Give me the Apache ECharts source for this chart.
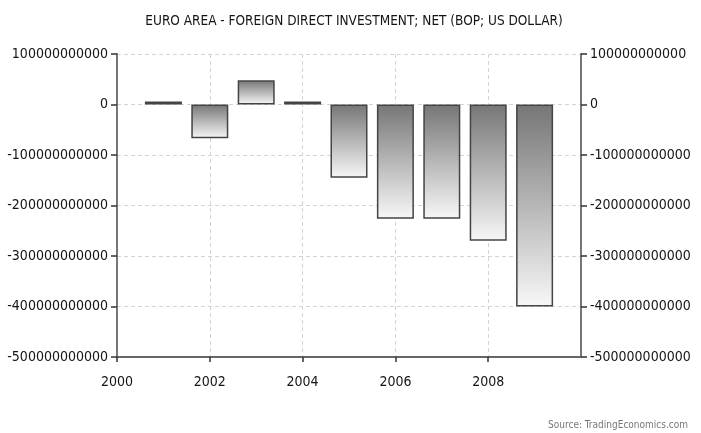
<!DOCTYPE html>
<html>
<head>
<meta charset="utf-8">
<title>Euro Area - Foreign Direct Investment</title>
<script src="https://cdn.jsdelivr.net/npm/echarts@6/dist/echarts.min.js"></script>
<style>
  html, body { margin: 0; padding: 0; background: #fff; }
  #chart { width: 701px; height: 433px; }
</style>
</head>
<body>
<div id="chart"></div>
<script>
// years and net FDI (US dollars)
const years = [2001, 2002, 2003, 2004, 2005, 2006, 2007, 2008, 2009]
const values = [6e9, -67e9, 48e9, 6e9, -145e9, -226e9, -226e9, -270e9, -400e9]
const yTicks = [100e9, 0, -100e9, -200e9, -300e9, -400e9, -500e9]

const font = '"DejaVu Sans Condensed", "DejaVu Sans", sans-serif'

const chart = echarts.init(document.getElementById('chart'))

function yAxisOf(pos) {
  return {
    type: 'value',
    position: pos,
    min: yTicks[yTicks.length - 1],
    max: yTicks[0],
    interval: 100e9,
    axisLine: { show: true, lineStyle: { color: '#777', width: 2 } },
    axisTick: { show: true, length: 6, lineStyle: { color: '#333', width: 1.5 } },
    axisLabel: {
      color: '#141414',
      fontFamily: font,
      fontSize: 14,
      margin: 9,
      formatter: v => String(Math.round(v))
    },
    splitLine: pos === 'left'
      ? { show: true, lineStyle: { color: '#d4d4d4', type: [4, 3], width: 1 } }
      : { show: false }
  }
}

chart.setOption({
  animation: false,
  backgroundColor: '#fff',
  title: {
    text: 'EURO AREA - FOREIGN DIRECT INVESTMENT; NET (BOP; US DOLLAR)',
    left: 349,
    textAlign: 'center',
    top: 9,
    textStyle: { fontFamily: font, fontSize: 13.5, fontWeight: 'normal', color: '#141414' }
  },
  graphic: [{
    type: 'text',
    right: 13,
    top: 420,
    style: { text: 'Source: TradingEconomics.com', fontFamily: font, fontSize: 10, fill: '#777' }
  }],
  grid: {
    left: 117,
    right: 120,
    top: 54,
    bottom: 76,
    containLabel: false,
    outerBoundsMode: 'none'
  },
  xAxis: {
    type: 'value',
    min: 2000,
    max: 2010,
    interval: 2,
    axisLine: { show: true, onZero: false, lineStyle: { color: '#666', width: 2 } },
    axisTick: { show: true, length: 5, lineStyle: { color: '#333', width: 1.5 } },
    axisLabel: {
      color: '#141414',
      fontFamily: font,
      fontSize: 14,
      margin: 18,
      showMaxLabel: false,
      formatter: v => String(v)
    },
    splitLine: { show: true, lineStyle: { color: '#d4d4d4', type: [4, 3], width: 1 } }
  },
  yAxis: [yAxisOf('left'), yAxisOf('right')],
  series: [{
    type: 'bar',
    data: years.map((y, i) => [y, values[i]]),
    barWidth: 37,
    itemStyle: {
      color: {
        type: 'linear',
        x: 0, y: 0, x2: 0, y2: 1,
        colorStops: [
          { offset: 0, color: '#767676' },
          { offset: 1, color: '#f7f7f7' }
        ]
      },
      borderColor: '#444',
      borderWidth: 1.5
    }
  }]
})
</script>
</body>
</html>
